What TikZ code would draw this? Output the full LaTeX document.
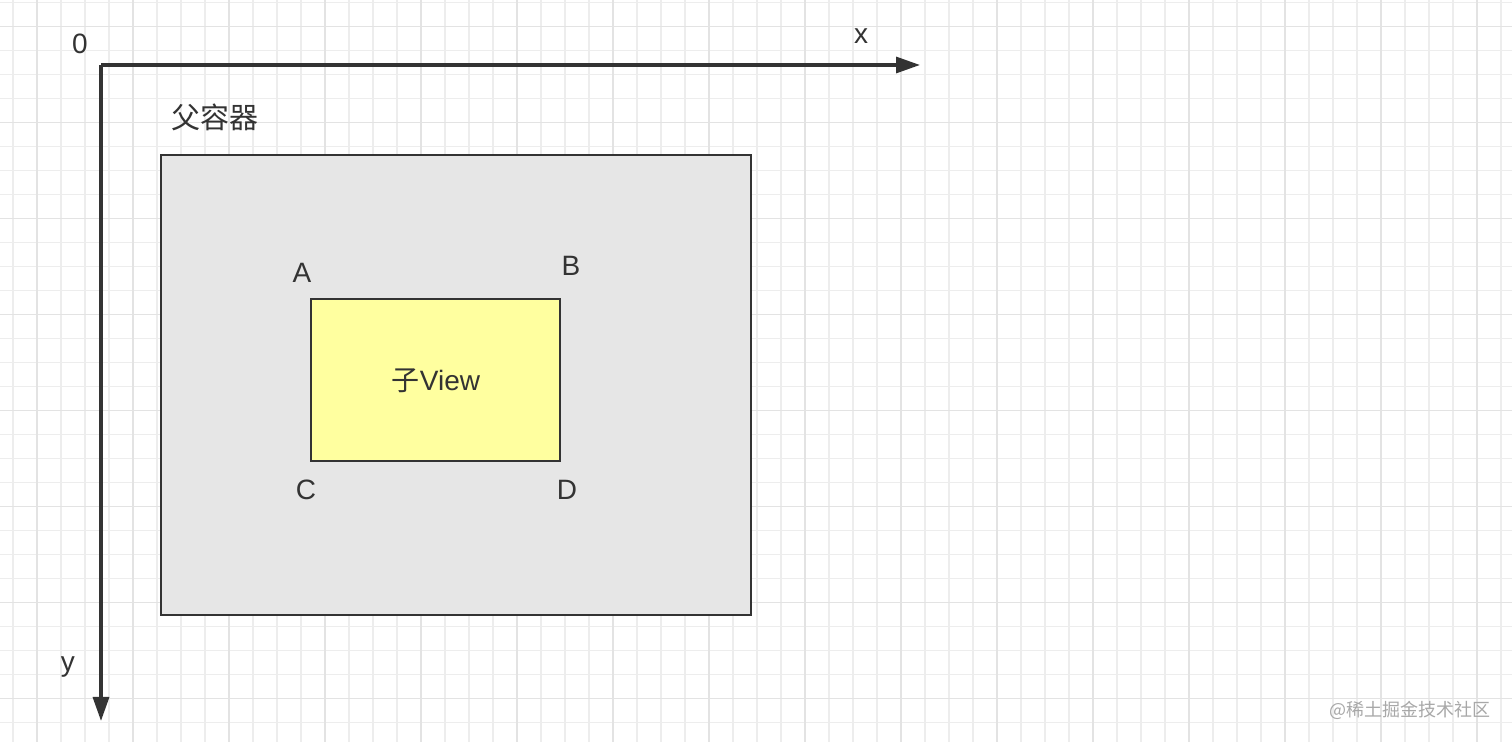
\documentclass[tikz,border=0pt]{standalone}
\usepackage{fontspec}
\setmainfont{Liberation Sans}
\newfontfamily\cjk{Noto Sans CJK SC}
\usetikzlibrary{arrows.meta}
\definecolor{gridminor}{HTML}{EDEDED}
\definecolor{gridmajor}{HTML}{E3E3E3}
\definecolor{linedark}{HTML}{333333}
\definecolor{parentgray}{HTML}{E6E6E6}
\definecolor{childyellow}{HTML}{FFFF9F}
\definecolor{markgray}{HTML}{A8A8A8}

\begin{document}
\begin{tikzpicture}[x=0.5pt,y=-0.5pt,
    axis/.style={draw=linedark, line width=1.6pt, -{Triangle[length=12pt,width=8pt]}},
    box/.style={draw=linedark, line width=1.4pt},
    lbl/.style={text=linedark, font=\fontsize{14}{16}\selectfont, inner sep=0pt}]
  \useasboundingbox (0,0) rectangle (1512,742);
  \fill[white] (0,0) rectangle (1512,742);
  % Background grid: minor every 24px, major every 96px
  \foreach \gx in {13,37,...,1512} \draw[gridminor, line width=0.7pt] (\gx,0) -- (\gx,742);
  \foreach \gy in {2.7,26.7,...,742} \draw[gridminor, line width=0.7pt] (0,\gy) -- (1512,\gy);
  \foreach \gx in {37,133,...,1512} \draw[gridmajor, line width=0.8pt] (\gx,0) -- (\gx,742);
  \foreach \gy in {26.7,122.7,...,742} \draw[gridmajor, line width=0.8pt] (0,\gy) -- (1512,\gy);
  % Axes
  \coordinate (O) at (101,65);
  \coordinate (Xend) at (920,65);
  \coordinate (Yend) at (101,721);
  \draw[axis] (O) -- (Xend);
  \draw[axis] (O) -- (Yend);
  \node[lbl] (zero) at (80,44) {0};
  \node[lbl] (xlbl) at (861,36) {x};
  \node[lbl] (ylbl) at (68,667) {y};
  % Parent container
  \node[lbl, font=\cjk\fontsize{14.5}{16}\selectfont] (parentlbl) at (215,117) {父容器};
  \draw[box, fill=parentgray] (161,155) rectangle (751,615);
  % Child view with corner labels
  \draw[box, fill=childyellow] (311,299) rectangle (560,461);
  \node[lbl] (child) at (436,381) {{\cjk 子}View};
  \node[lbl] (A) at (302,273) {A};
  \node[lbl] (B) at (571,266) {B};
  \node[lbl] (C) at (306,490) {C};
  \node[lbl] (D) at (567,490) {D};
  % Watermark
  \node[text=markgray, font=\cjk\fontsize{9}{11}\selectfont, inner sep=0pt] (mark) at (1410,710) {@稀土掘金技术社区};
\end{tikzpicture}
\end{document}
